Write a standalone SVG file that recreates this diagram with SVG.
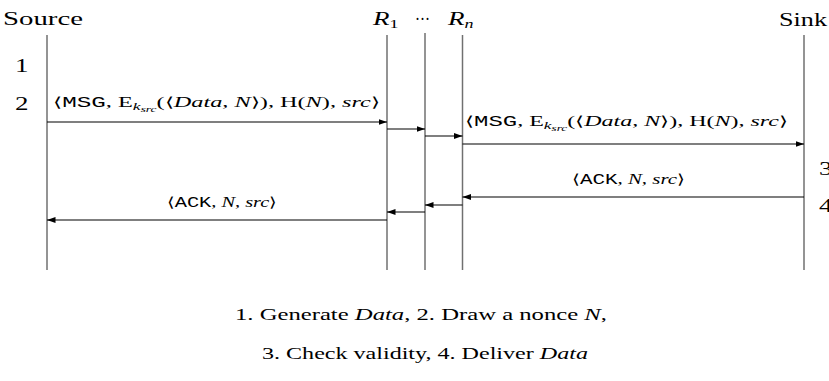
<svg xmlns="http://www.w3.org/2000/svg" width="829" height="381" viewBox="0 0 829 381">
<style>
.it{font-style:italic}
.life{stroke:#707070;stroke-width:1.5;fill:none}
.msg{stroke:#000;stroke-width:1.1;fill:none;marker-end:url(#ah)}
</style>
<defs>
<marker id="ah" markerUnits="userSpaceOnUse" markerWidth="9" markerHeight="7" refX="8.5" refY="3" orient="auto">
<path d="M0,0 L8.5,3 L0,6 z" fill="#000"/>
</marker>
</defs>
<rect width="829" height="381" fill="#fff"/>
<g font-family="Liberation Serif" fill="#000">
<g id="source">
<text font-size="18" transform="translate(3,25) scale(1.5,1)" textLength="53.3" lengthAdjust="spacingAndGlyphs">Source</text>
<line class="life" x1="47" y1="35" x2="47" y2="270"/>
<text font-size="18" transform="translate(15,72) scale(1.5,1)">1</text>
<text font-size="18" transform="translate(15,110) scale(1.5,1)">2</text>
</g>
<g id="r1">
<text font-size="18" transform="translate(373,25) scale(1.5,1)"><tspan class="it">R</tspan><tspan font-size="12" dy="3">1</tspan></text>
<line class="life" x1="387" y1="35" x2="387" y2="270"/>
</g>
<g id="dots">
<text font-size="18" transform="translate(415,25) scale(1.5,1)" textLength="10" lengthAdjust="spacingAndGlyphs">···</text>
<line class="life" x1="425" y1="33" x2="425" y2="270"/>
</g>
<g id="rn">
<text font-size="18" transform="translate(448,25) scale(1.5,1)"><tspan class="it">R</tspan><tspan class="it" font-size="12" dy="3">n</tspan></text>
<line class="life" x1="462.5" y1="35" x2="462.5" y2="270"/>
</g>
<g id="sink">
<text font-size="18" transform="translate(779,26) scale(1.5,1)" textLength="32" lengthAdjust="spacingAndGlyphs">Sink</text>
<line class="life" x1="804" y1="35" x2="804" y2="270"/>
<text font-size="18" transform="translate(819,175) scale(1.5,1)">3</text>
<text font-size="18" transform="translate(819,212) scale(1.5,1)">4</text>
</g>
<g id="connectors">
<line class="msg" x1="47" y1="122" x2="387" y2="122"/>
<line class="msg" x1="387" y1="129" x2="425" y2="129"/>
<line class="msg" x1="425" y1="136" x2="462.5" y2="136"/>
<line class="msg" x1="462.5" y1="144" x2="804" y2="144"/>
<line class="msg" x1="804" y1="197" x2="462.5" y2="197"/>
<line class="msg" x1="462.5" y1="205" x2="425" y2="205"/>
<line class="msg" x1="425" y1="212" x2="387" y2="212"/>
<line class="msg" x1="387" y1="220" x2="47" y2="220"/>
<text font-size="14.5" transform="translate(53,107) scale(1.5,1)" textLength="218" lengthAdjust="spacingAndGlyphs">⟨<tspan font-family="Liberation Mono">MSG</tspan>, E<tspan class="it" font-size="10.5" dy="3">k</tspan><tspan class="it" font-size="8" dy="1.5">src</tspan><tspan dy="-4.5">(⟨</tspan><tspan class="it">Data</tspan>, <tspan class="it">N</tspan>⟩), H(<tspan class="it">N</tspan>), <tspan class="it">src</tspan>⟩</text>
<text font-size="14.5" transform="translate(465,126) scale(1.5,1)" textLength="215.3" lengthAdjust="spacingAndGlyphs">⟨<tspan font-family="Liberation Mono">MSG</tspan>, E<tspan class="it" font-size="10.5" dy="3">k</tspan><tspan class="it" font-size="8" dy="1.5">src</tspan><tspan dy="-4.5">(⟨</tspan><tspan class="it">Data</tspan>, <tspan class="it">N</tspan>⟩), H(<tspan class="it">N</tspan>), <tspan class="it">src</tspan>⟩</text>
<text font-size="14.5" transform="translate(572,184) scale(1.5,1)" textLength="75.3" lengthAdjust="spacingAndGlyphs">⟨<tspan font-family="Liberation Mono">ACK</tspan>, <tspan class="it">N</tspan>, <tspan class="it">src</tspan>⟩</text>
<text font-size="14.5" transform="translate(167,207) scale(1.5,1)" textLength="73.3" lengthAdjust="spacingAndGlyphs">⟨<tspan font-family="Liberation Mono">ACK</tspan>, <tspan class="it">N</tspan>, <tspan class="it">src</tspan>⟩</text>
</g>
<g id="caption">
<text font-size="16.5" transform="translate(235,320) scale(1.5,1)" textLength="248" lengthAdjust="spacingAndGlyphs">1. Generate <tspan class="it">Data</tspan>, 2. Draw a nonce <tspan class="it">N</tspan>,</text>
<text font-size="16.5" transform="translate(262,359) scale(1.5,1)" textLength="217.3" lengthAdjust="spacingAndGlyphs">3. Check validity, 4. Deliver <tspan class="it">Data</tspan></text>
</g>
</g>
</svg>
